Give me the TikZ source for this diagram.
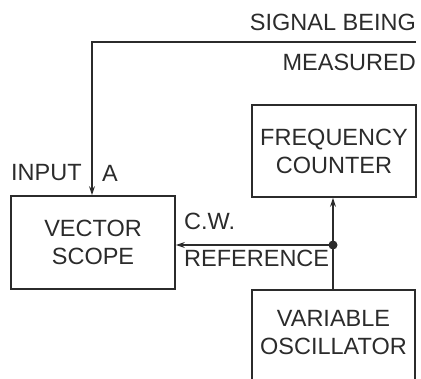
\documentclass[tikz,border=0pt]{standalone}
\usepackage{fontspec}
\setmainfont{Liberation Sans}
\usetikzlibrary{arrows.meta}
\definecolor{ink}{HTML}{2B2B2B}
\begin{document}
\begin{tikzpicture}[x=1pt,y=-1pt,
  every node/.style={font=\fontsize{23.5}{28}\selectfont, text=ink},
  blockbox/.style={draw=ink, line width=1.8pt, inner sep=0pt, align=center},
  wire/.style={draw=ink, line width=1.3pt},
  tip/.style={-{Stealth[length=9pt,width=6pt]}},
  lbl/.style={inner sep=0pt}]
\useasboundingbox (0,0) rectangle (421,379);
\clip (0,0) rectangle (421,379);
% boxes
\node[blockbox, minimum width=164pt, minimum height=93pt] (scope) at (93,242.5) {VECTOR\\SCOPE};
\node[blockbox, minimum width=164pt, minimum height=92pt] (counter) at (334,151) {FREQUENCY\\COUNTER};
\coordinate (oscTL) at (252,290);
\coordinate (oscTR) at (415,290);
\draw[draw=ink, line width=1.8pt] (252,390) -- (oscTL) -- (oscTR) -- (415,390);
\node[lbl, align=center] (osc) at (333.5,333) {VARIABLE\\OSCILLATOR};
% labels
\node[lbl, anchor=east] (sig1) at (416,22.5) {SIGNAL BEING};
\node[lbl, anchor=east] (sig2) at (416,62.5) {MEASURED};
\node[lbl, anchor=west] (inp) at (11,173) {INPUT};
\node[lbl, anchor=west] (inA) at (102,173) {A};
\node[lbl, anchor=west] (cw) at (184,221) {C.W.};
\node[lbl, anchor=west] (ref) at (184,258.5) {REFERENCE};
% connectors
\coordinate (sigend) at (416,42);
\coordinate (corner) at (92,42);
\draw[wire, tip] (sigend) -- (corner) -- (corner |- scope.north);
\coordinate (oscin) at (333,290);
\coordinate (junc) at (333,245);
\draw[wire, tip] (oscin) -- (junc) -- (junc |- counter.south);
\draw[wire, tip] (junc) -- (junc -| scope.east);
\fill[ink] (junc) circle (4.5pt);
\end{tikzpicture}
\end{document}
